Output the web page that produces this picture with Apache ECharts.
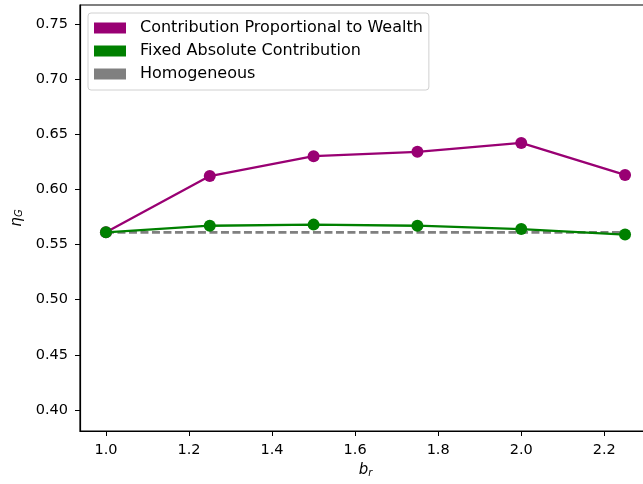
<!DOCTYPE html>
<html>
<head>
<meta charset="utf-8">
<script src="https://cdn.jsdelivr.net/npm/echarts@6/dist/echarts.min.js"></script>
<style>
  html, body { margin: 0; padding: 0; background: #fff; overflow: hidden; }
  #chart { width: 660px; height: 484px; }
</style>
</head>
<body>
<div id="chart"></div>
<script>
// b_r values on the horizontal axis
const brValues = [1.0, 1.25, 1.5, 1.75, 2.0, 2.25];
// eta_G for each contribution scheme
const proportional = [0.561, 0.612, 0.630, 0.634, 0.642, 0.613];
const fixedAbsolute = [0.561, 0.567, 0.568, 0.567, 0.564, 0.559];
const homogeneous = [0.561, 0.561, 0.561, 0.561, 0.561, 0.561];
const seriesNames = ['Contribution Proportional to Wealth', 'Fixed Absolute Contribution', 'Homogeneous'];
// tick positions
const xTicks = [1.0, 1.2, 1.4, 1.6, 1.8, 2.0, 2.2];
const yTicks = [0.40, 0.45, 0.50, 0.55, 0.60, 0.65, 0.70, 0.75];

const colors = ['#990073', '#008000', '#808080'];
const font = 'DejaVu Sans';

const pairs = (ys) => brValues.map((x, i) => [x, ys[i]]);

const subLabel = {
  v: { fontFamily: font, fontSize: 15, fontStyle: 'italic', color: '#000' },
  s: { fontFamily: font, fontSize: 10, fontStyle: 'italic', color: '#000', padding: [6, 0, 0, 0] }
};

const chart = echarts.init(document.getElementById('chart'), null, { renderer: 'canvas' });
chart.setOption({
  animation: false,
  backgroundColor: '#fff',
  textStyle: { fontFamily: font },
  grid: {
    left: 80, top: 5, right: 9, bottom: 53,
    show: true, borderColor: '#000', borderWidth: 1.2, backgroundColor: 'transparent'
  },
  legend: {
    orient: 'vertical',
    left: 88, top: 13,
    padding: [7, 6, 8, 6],
    itemWidth: 32, itemHeight: 11, itemGap: 7,
    backgroundColor: 'rgba(255,255,255,0.8)',
    borderColor: '#d0d0d0', borderWidth: 1, borderRadius: 3,
    icon: 'rect',
    textStyle: { fontFamily: font, fontSize: 16, color: '#000', padding: [0, 0, 0, 9] },
    data: seriesNames.map((n, i) => ({ name: n, itemStyle: { color: colors[i] } }))
  },
  xAxis: {
    type: 'value',
    min: 0.9375, max: 2.3125,
    name: '{v|b}{s|r}',
    nameLocation: 'middle', nameGap: 30,
    nameTextStyle: { rich: subLabel },
    axisLine: { show: true, onZero: false, lineStyle: { color: '#000', width: 1.2 } },
    axisTick: { show: true, inside: false, length: 5, customValues: xTicks, lineStyle: { color: '#000', width: 1 } },
    axisLabel: {
      customValues: xTicks, margin: 12, fontFamily: font, fontSize: 14.5, color: '#000',
      formatter: (v) => v.toFixed(1)
    },
    splitLine: { show: false }
  },
  yAxis: {
    type: 'value',
    min: 0.381, max: 0.767,
    name: '{v|η}{s|G}',
    nameLocation: 'middle', nameGap: 53, nameRotate: 90,
    nameTextStyle: { rich: subLabel },
    axisLine: { show: true, lineStyle: { color: '#000', width: 1.2 } },
    axisTick: { show: true, inside: false, length: 5, customValues: yTicks, lineStyle: { color: '#000', width: 1 } },
    axisLabel: {
      customValues: yTicks, margin: 12, fontFamily: font, fontSize: 14.5, color: '#000',
      formatter: (v) => v.toFixed(2)
    },
    splitLine: { show: false }
  },
  series: [
    {
      name: seriesNames[2], type: 'line', data: pairs(homogeneous), z: 1,
      symbol: 'none',
      lineStyle: { color: colors[2], width: 2.6, type: [8, 3.5] },
      itemStyle: { color: colors[2] }
    },
    {
      name: seriesNames[0], type: 'line', data: pairs(proportional), z: 2,
      symbol: 'circle', symbolSize: 12,
      lineStyle: { color: colors[0], width: 2.3 },
      itemStyle: { color: colors[0] }
    },
    {
      name: seriesNames[1], type: 'line', data: pairs(fixedAbsolute), z: 3,
      symbol: 'circle', symbolSize: 12,
      lineStyle: { color: colors[1], width: 2.3 },
      itemStyle: { color: colors[1] }
    }
  ]
});
</script>
</body>
</html>
